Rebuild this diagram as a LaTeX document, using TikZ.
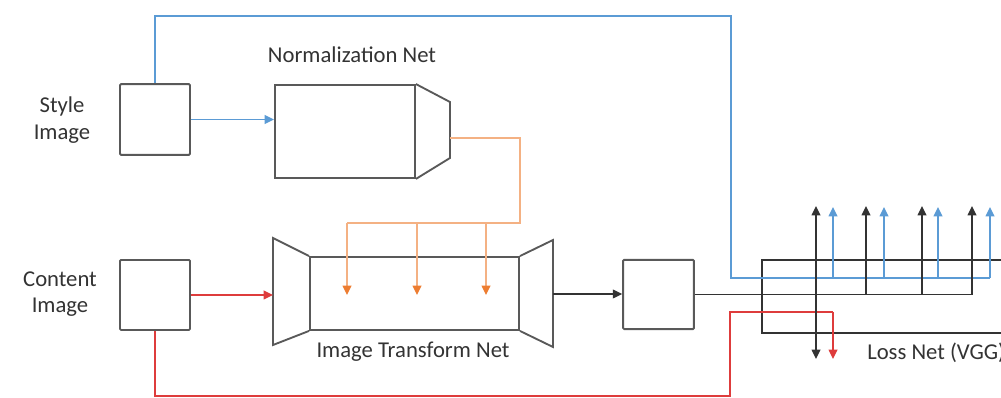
\documentclass[tikz,border=0pt]{standalone}
\usepackage{fontspec}
\setmainfont{Carlito}
\usetikzlibrary{arrows.meta,positioning,calc}
\definecolor{boxgray}{RGB}{89,89,89}
\definecolor{styleblue}{RGB}{91,155,213}
\definecolor{normorange}{RGB}{244,177,131}
\definecolor{tiporange}{RGB}{237,125,49}
\definecolor{contentred}{RGB}{222,60,60}
\tikzset{
  imgbox/.style={draw=boxgray, line width=1.4pt, inner sep=0pt, rounded corners=0.8pt},
  netline/.style={draw=boxgray, line width=1.4pt},
  lbl/.style={font=\fontsize{17}{20}\selectfont, text=black!80, inner sep=0.75pt, align=center},
  tipped/.style={-{Triangle[length=7pt,width=6.5pt]}},
  blueline/.style={draw=styleblue, line width=1.1pt},
  orangeline/.style={draw=normorange, line width=1.1pt},
  redline/.style={draw=contentred, line width=1.1pt},
  blackline/.style={draw=black!80, line width=1.1pt},
}
\begin{document}
\begin{tikzpicture}[x=0.75pt,y=0.75pt,yscale=-1,xscale=1]
\useasboundingbox (0,0) rectangle (1001,398);
\clip (0,0) rectangle (1001,398);

% image boxes
\node[imgbox, minimum width=52.5pt, minimum height=53pt] (style) at (155,119.5) {};
\node[imgbox, minimum width=52.5pt, minimum height=52.5pt] (content) at (155,295) {};
\node[imgbox, minimum width=53pt, minimum height=52pt] (output) at (658.5,294.5) {};

% normalization net
\node[netline, minimum width=105pt, minimum height=69.75pt, inner sep=0pt] (norm) at (345,131.5) {};
\coordinate (normout) at (450,138);
\draw[netline] (norm.north east) -- (450,102) -- (450,158) -- (norm.south east);

% image transform net
\node[netline, minimum width=156.75pt, minimum height=54.75pt, inner sep=0pt] (trans) at (414.5,293.5) {};
\coordinate (tin) at (273,294);
\coordinate (tout) at (553,294);
\draw[netline] (trans.north west) -- (273,238) -- (273,345) -- (trans.south west);
\draw[netline] (trans.north east) -- (553,240) -- (553,347) -- (trans.south east);

% loss net
\coordinate (lossnw) at (762,260);
\coordinate (losssw) at (762,333);
\draw[blackline] (1001,260) -- (lossnw) -- (losssw) -- (1001,333);

% labels
\node[lbl] (stylelbl) at (62,120) {Style\\Image};
\node[lbl] (contentlbl) at (60,294) {Content\\Image};
\node[lbl] (normlbl) at (352,55) {Normalization Net};
\node[lbl] (translbl) at (413,352) {Image Transform Net};
\node[lbl, anchor=west] (losslbl) at (866,353) {Loss Net (VGG)};

% style path
\draw[blueline, tipped] (style.east) -- (style.east -| norm.west);
\coordinate (bl1) at (731,16);
\coordinate (bl2) at (731,278);
\coordinate (bl3) at (990,278);
\draw[blueline] (style.north) |- (bl1) -- (bl2) -- (bl3);
\foreach \i/\x in {1/833,2/884,3/938,4/990}{
  \coordinate (bs\i) at (\x,278);
  \coordinate (bt\i) at (\x,207);
  \draw[blueline, tipped] (bs\i) -- (bt\i);
}

% normalization parameters
\coordinate (or1) at (520,223);
\draw[orangeline] (normout) -| (or1) -- (347,223);
\foreach \i/\x in {1/347,2/417,3/486}{
  \coordinate (os\i) at (\x,223);
  \coordinate (ot\i) at (\x,295);
  \draw[orangeline, -{Triangle[length=7pt,width=6.5pt,color=tiporange]}] (os\i) -- (ot\i);
}

% content path
\draw[redline, tipped] (content.east) -- (content.east -| tin);
\coordinate (rd1) at (730,396);
\coordinate (rd2) at (730,312);
\coordinate (rd3) at (833,312);
\coordinate (rd4) at (833,359);
\draw[redline] (content.south) |- (rd1) -- (rd2) -- (rd3);
\draw[redline, tipped] (rd3) -- (rd4);

% transformed image path
\draw[blackline, tipped] (tout) -- (tout -| output.west);
\coordinate (bk1) at (972,295);
\draw[blackline] (output.east) -- (output.east -| bk1) -- (bk1);
\foreach \i/\x in {1/816,2/866,3/922,4/972}{
  \coordinate (ks\i) at (\x,295);
  \coordinate (kt\i) at (\x,206);
  \draw[blackline, tipped] (ks\i) -- (kt\i);
}
\coordinate (kd1) at (816,359);
\draw[blackline, tipped] (ks1) -- (kd1);

\end{tikzpicture}
\end{document}
